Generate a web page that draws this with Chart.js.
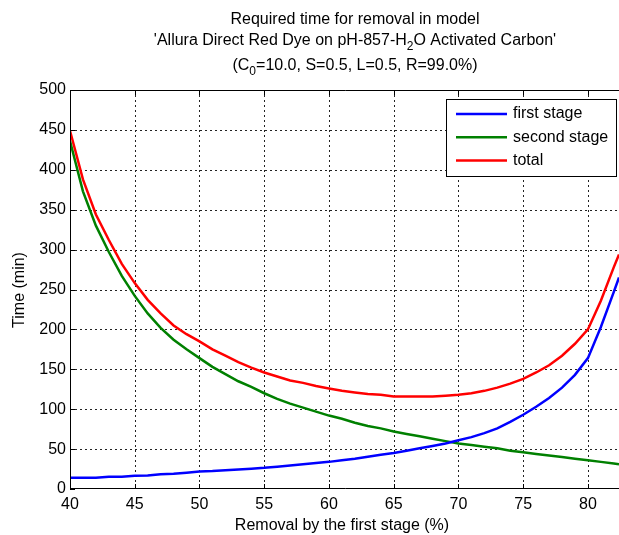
<!DOCTYPE html>
<html>
<head>
<meta charset="utf-8">
<script src="https://cdn.jsdelivr.net/npm/chart.js@4/dist/chart.umd.min.js"></script>
<style>
  html, body { margin: 0; padding: 0; background: #fff; }
  canvas { display: block; }
</style>
</head>
<body>
<canvas id="removalChart" width="619" height="535"></canvas>
<script>
// Removal by the first stage (%)
const removal = [40, 41, 42, 43, 44, 45, 46, 47, 48, 49, 50, 51, 52, 53, 54, 55, 56, 57, 58, 59, 60,
  61, 62, 63, 64, 65, 66, 67, 68, 69, 70, 71, 72, 73, 74, 75, 76, 77, 78, 79, 80, 81, 82, 82.4];

// Time (min) for each stage
const firstStage = [14, 14, 14, 15.5, 15.5, 16.5, 17, 18.5, 19, 20.5, 22, 22.5, 23.5, 24.5, 25.5, 26.5,
  28, 29.5, 31, 32.5, 34, 36, 38, 40.5, 43, 45, 48, 51, 54, 57, 61, 65, 70, 76, 84, 93, 103, 114, 127,
  143, 164, 203, 247, 265];
const secondStage = [436, 373, 330, 297, 267, 242, 220, 202, 187, 175, 164, 153, 144, 135, 128, 120,
  113, 107, 102, 97, 92, 88, 83, 79, 76, 72, 69, 66, 63, 60, 57, 55, 53, 51, 48, 46, 44, 42, 40, 38,
  36, 34, 32, 31];
const totalTime = [449, 388, 344, 312, 282, 258, 237, 220, 205, 194, 185, 175, 167, 159, 152, 146,
  141, 136, 133, 129, 126, 123, 121, 119, 118, 116, 116, 116, 116, 117, 118, 120, 123, 127, 132, 138,
  146, 155, 167, 182, 200, 236, 278, 294];

const xTicks = [40, 45, 50, 55, 60, 65, 70, 75, 80];
const yTicks = [0, 50, 100, 150, 200, 250, 300, 350, 400, 450, 500];

const FONT = '"Liberation Sans", Arial, Helvetica, sans-serif';

function points(values) {
  return removal.map((x, i) => ({ x: x, y: values[i] }));
}

// grid, axes box, tick marks, legend and titles in the old plotting style
const matlabFrame = {
  id: 'matlabFrame',
  beforeDatasetsDraw(chart) {
    const { ctx, chartArea: a, scales: { x, y } } = chart;
    ctx.save();
    ctx.strokeStyle = '#222';
    ctx.lineWidth = 1;
    ctx.setLineDash([2, 3]);
    xTicks.forEach(v => {
      const px = Math.round(x.getPixelForValue(v)) + 0.5;
      if (px <= a.left + 1) return;
      ctx.beginPath();
      ctx.moveTo(px, a.top);
      ctx.lineTo(px, a.bottom);
      ctx.stroke();
    });
    yTicks.forEach(v => {
      const py = Math.round(y.getPixelForValue(v)) + 0.5;
      if (py <= a.top + 1 || py >= a.bottom - 1) return;
      ctx.beginPath();
      ctx.moveTo(a.left, py);
      ctx.lineTo(a.right, py);
      ctx.stroke();
    });
    ctx.restore();
  },
  afterDatasetsDraw(chart) {
    const { ctx, chartArea: a, scales: { x, y } } = chart;
    ctx.save();
    ctx.strokeStyle = '#000';
    ctx.lineWidth = 1;
    ctx.setLineDash([]);

    // box (right side falls outside the canvas)
    ctx.beginPath();
    ctx.moveTo(a.right + 1, a.top + 0.5);
    ctx.lineTo(a.left + 0.5, a.top + 0.5);
    ctx.lineTo(a.left + 0.5, a.bottom - 0.5);
    ctx.lineTo(a.right + 1, a.bottom - 0.5);
    ctx.stroke();

    // inward tick marks
    const len = 5;
    ctx.beginPath();
    xTicks.forEach(v => {
      const px = Math.round(x.getPixelForValue(v)) + 0.5;
      ctx.moveTo(px, a.bottom);
      ctx.lineTo(px, a.bottom - len);
      ctx.moveTo(px, a.top);
      ctx.lineTo(px, a.top + len);
    });
    yTicks.forEach(v => {
      const py = Math.round(y.getPixelForValue(v)) + 0.5;
      ctx.moveTo(a.left, py);
      ctx.lineTo(a.left + len, py);
    });
    ctx.stroke();

    // legend
    const lx = 446, ly = 99, lw = 170, lh = 77;
    ctx.fillStyle = '#fff';
    ctx.fillRect(lx, ly, lw, lh);
    ctx.strokeRect(lx + 0.5, ly + 0.5, lw, lh);
    ctx.font = '16px ' + FONT;
    ctx.textBaseline = 'middle';
    ctx.textAlign = 'left';
    chart.data.datasets.forEach((ds, i) => {
      const ry = 114 + i * 23.3;
      ctx.strokeStyle = ds.borderColor;
      ctx.lineWidth = 2.5;
      ctx.beginPath();
      ctx.moveTo(456, ry);
      ctx.lineTo(507, ry);
      ctx.stroke();
      ctx.fillStyle = '#000';
      ctx.fillText(ds.label, 513, ry);
    });

    // titles
    ctx.fillStyle = '#000';
    ctx.textAlign = 'center';
    ctx.textBaseline = 'alphabetic';
    ctx.font = '16px ' + FONT;
    const cx = 355;
    ctx.fillText('Required time for removal in model', cx, 24);
    drawSubscripted(ctx, [["'Allura Direct Red Dye on pH-857-H", false], ['2', true], ["O Activated Carbon'", false]], cx, 45);
    drawSubscripted(ctx, [['(C', false], ['0', true], ['=10.0, S=0.5, L=0.5, R=99.0%)', false]], cx, 70);

    // axis labels
    ctx.textAlign = 'center';
    ctx.fillText('Removal by the first stage (%)', 342, 530);
    ctx.save();
    ctx.translate(24, 290);
    ctx.rotate(-Math.PI / 2);
    ctx.fillText('Time (min)', 0, 0);
    ctx.restore();

    ctx.restore();
  }
};

function drawSubscripted(ctx, parts, cx, baseY) {
  const big = '16px ' + FONT, small = '12px ' + FONT;
  let total = 0;
  parts.forEach(([t, sub]) => {
    ctx.font = sub ? small : big;
    total += ctx.measureText(t).width;
  });
  let px = cx - total / 2;
  ctx.textAlign = 'left';
  parts.forEach(([t, sub]) => {
    ctx.font = sub ? small : big;
    ctx.fillText(t, px, sub ? baseY + 5 : baseY);
    px += ctx.measureText(t).width;
  });
  ctx.textAlign = 'center';
  ctx.font = big;
}

const ctx = document.getElementById('removalChart').getContext('2d');
new Chart(ctx, {
  type: 'line',
  data: {
    datasets: [
      { label: 'first stage', data: points(firstStage), borderColor: '#0000ff' },
      { label: 'second stage', data: points(secondStage), borderColor: '#008000' },
      { label: 'total', data: points(totalTime), borderColor: '#ff0000' },
    ],
  },
  options: {
    responsive: false,
    animation: false,
    devicePixelRatio: 1,
    layout: { padding: { top: 90, left: 0, right: 0, bottom: 0 } },
    elements: {
      line: { borderWidth: 2.5, tension: 0, fill: false },
      point: { radius: 0 },
    },
    plugins: {
      legend: { display: false },
      tooltip: { enabled: false },
    },
    scales: {
      x: {
        type: 'linear',
        min: 40,
        max: 82.4,
        grid: { display: false, drawTicks: false },
        border: { display: false },
        afterBuildTicks: s => { s.ticks = xTicks.map(v => ({ value: v })); },
        afterFit: s => { s.height = 46; },
        ticks: { color: '#000', padding: 6, maxRotation: 0, font: { family: FONT, size: 16 } },
      },
      y: {
        type: 'linear',
        min: 0,
        max: 500,
        grid: { display: false, drawTicks: false },
        border: { display: false },
        afterBuildTicks: s => { s.ticks = yTicks.map(v => ({ value: v })); },
        afterFit: s => { s.width = 70; },
        ticks: { color: '#000', padding: 4, font: { family: FONT, size: 16 } },
      },
    },
  },
  plugins: [matlabFrame],
});
</script>
</body>
</html>
